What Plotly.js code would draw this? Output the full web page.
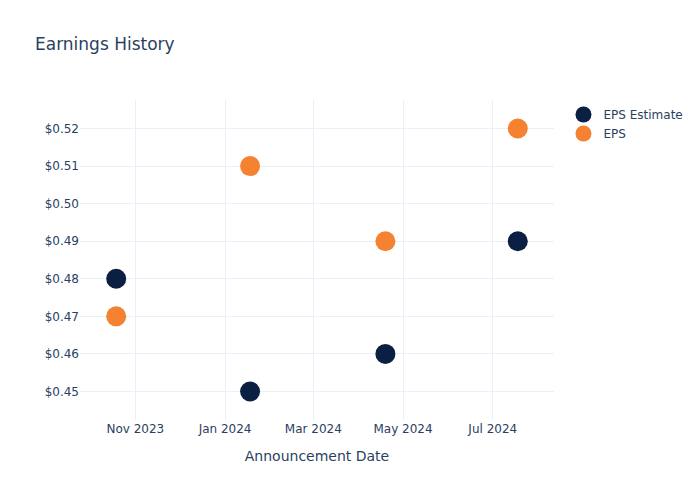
<!DOCTYPE html>
<html>
<head>
<meta charset="utf-8">
<script src="https://cdn.plot.ly/plotly-3.0.1.min.js"></script>
<style>html,body{margin:0;padding:0;}#chart{width:700px;height:500px;}</style>
</head>
<body>
<div id="chart"></div>
<script>
const dates = ["2023-10-19", "2024-01-18", "2024-04-19", "2024-07-18"];
const epsEstimate = [0.48, 0.45, 0.46, 0.49];
const epsActual = [0.47, 0.51, 0.49, 0.52];

const data = [
  {
    x: dates, y: epsEstimate, name: "EPS Estimate", mode: "markers", type: "scatter",
    marker: {color: "#0b1f42", size: 20}
  },
  {
    x: dates, y: epsActual, name: "EPS", mode: "markers", type: "scatter",
    marker: {color: "#f58231", size: 20}
  }
];

const layout = {
  width: 700, height: 500,
  template: "plotly_white",
  font: {family: "DejaVu Sans, sans-serif", color: "#2a3f5f", size: 12},
  title: {text: "Earnings History", x: 0.05, font: {size: 17}},
  paper_bgcolor: "#ffffff",
  plot_bgcolor: "#ffffff",
  xaxis: {
    title: {text: "Announcement Date", standoff: 16},
    type: "date",
    gridcolor: "#EBF0F8",
    zeroline: false,
    showline: false
  },
  yaxis: {
    tickprefix: "$",
    tickformat: ".2f",
    gridcolor: "#EBF0F8",
    zeroline: false,
    showline: false
  },
  legend: {font: {size: 12}},
  margin: {l: 80, r: 80, t: 100, b: 80}
};

Plotly.newPlot("chart", data, layout, {displayModeBar: false});
</script>
</body>
</html>
